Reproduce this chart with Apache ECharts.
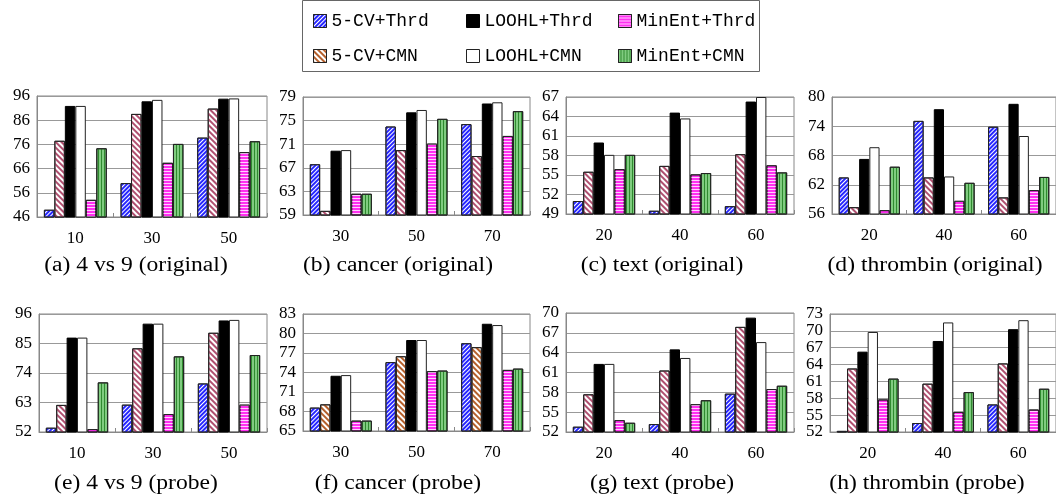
<!DOCTYPE html>
<html><head><meta charset="utf-8">
<script src="https://cdn.jsdelivr.net/npm/echarts@6/dist/echarts.min.js"></script>
<style>html,body{margin:0;padding:0;background:#fff}#c{width:1056px;height:497px}</style>
</head><body><div id="c"></div>
<script>
// ---------- data ----------
const seriesNames = ['5-CV+Thrd', '5-CV+CMN', 'LOOHL+Thrd', 'LOOHL+CMN', 'MinEnt+Thrd', 'MinEnt+CMN'];
const panelTitles = ['(a) 4 vs 9 (original)', '(b) cancer (original)', '(c) text (original)', '(d) thrombin (original)',
                     '(e) 4 vs 9 (probe)', '(f) cancer (probe)', '(g) text (probe)', '(h) thrombin (probe)'];
const panelCategories = [['10','30','50'], ['30','50','70'], ['20','40','60'], ['20','40','60'],
                         ['10','30','50'], ['30','50','70'], ['20','40','60'], ['20','40','60']];
const yMin  = [46, 59, 49, 56, 52, 65, 52, 52];
const yMax  = [96, 79, 67, 80, 96, 83, 70, 73];
const yStep = [10, 4, 3, 6, 11, 3, 3, 3];

// rows follow seriesNames, columns follow the panel categories
const a_fourVsNine_original = [[49.0,60.0,78.8],[77.5,88.6,90.8],[91.9,93.8,94.9],[91.9,94.4,95.0],[53.1,68.4,72.8],[74.4,76.2,77.3]];
const b_cancer_original     = [[67.6,74.0,74.4],[59.7,70.0,69.0],[69.9,76.4,77.9],[70.0,76.8,78.1],[62.6,71.1,72.4],[62.6,75.3,76.6]];
const c_text_original       = [[51.0,49.5,50.2],[55.5,56.4,58.2],[60.0,64.6,66.3],[58.1,63.7,67.0],[55.9,55.1,56.5],[58.1,55.3,55.4]];
const d_thrombin_original   = [[63.5,75.1,73.9],[57.4,63.5,59.4],[67.3,77.5,78.6],[69.7,63.7,72.0],[56.8,58.7,60.9],[65.7,62.4,63.6]];
const e_fourVsNine_probe    = [[53.6,62.2,70.1],[62.1,83.2,89.0],[87.2,92.4,93.6],[87.2,92.4,93.8],[53.1,58.7,62.2],[70.5,80.2,80.7]];
const f_cancer_probe        = [[68.6,75.6,78.5],[69.1,76.5,77.9],[73.5,79.0,81.5],[73.6,79.0,81.3],[66.6,74.2,74.4],[66.6,74.3,74.6]];
const g_text_probe          = [[52.8,53.2,57.8],[57.7,61.3,67.9],[62.3,64.5,69.3],[62.3,63.2,65.6],[53.8,56.2,58.5],[53.4,56.8,59.0]];
const h_thrombin_probe      = [[52.2,53.6,56.9],[63.3,60.6,64.2],[66.3,68.2,70.3],[69.8,71.5,71.9],[57.8,55.6,56.0],[61.5,59.1,59.7]];
const panelData = [a_fourVsNine_original, b_cancer_original, c_text_original, d_thrombin_original,
                   e_fourVsNine_probe, f_cancer_probe, g_text_probe, h_thrombin_probe];

// ---------- layout & style ----------
const grids = [
  {left:37,  top:96,  width:230, height:121},
  {left:303, top:97,  width:227, height:118},
  {left:566, top:97,  width:228, height:117},
  {left:832, top:97,  width:228, height:117},
  {left:39,  top:314, width:228, height:118},
  {left:303, top:314, width:227, height:117},
  {left:566, top:313, width:228, height:119},
  {left:830, top:314, width:230, height:118}
];
const titleCenters = [[136,266],[398,266],[662,266],[935,266],[136,484],[398,484],[662,484],[927,484]];
const serif = '"Liberation Serif", "Times New Roman", serif';
const border = '#222';
function stripe(color, rot, on, off) {
  return {symbol:'rect', symbolSize:1, color:color, dashArrayX:[1,0], dashArrayY:[on,off], rotation:rot};
}
const styles = [
  {color:'#ffffff', borderColor:border, borderWidth:1, decal: stripe('#2626ff', -Math.PI/4, 2, 1)},
  {color:'#ffffff', borderColor:border, borderWidth:1, decal: stripe('#b05070', Math.PI/4, 1.5, 1.5)},
  {color:'#000000', borderColor:'#000', borderWidth:1},
  {color:'#ffffff', borderColor:border, borderWidth:1},
  {color:'#ff30f0', borderColor:border, borderWidth:1, decal: stripe('#ffd0ff', 0, 1, 2)},
  {color:'#80cc80', borderColor:border, borderWidth:1, decal: stripe('#2f8a2f', Math.PI/2, 1, 2)}
];
const brownCMN = Object.assign({}, styles[1], {decal: stripe('#b5602c', Math.PI/4, 1.5, 1.5)});
const styleFor = (p, s) => (p === 5 && s === 1) ? brownCMN : styles[s];
const legendStyleFor = (s) => s === 1 ? brownCMN : styles[s];

const option = {
  animation: false,
  backgroundColor: '#fff',
  grid: grids.map(g => Object.assign({show:true, borderColor:'#888', borderWidth:1, backgroundColor:'transparent'}, g)),
  xAxis: grids.map((g, p) => ({
    type:'category', gridIndex:p, data: panelCategories[p],
    axisLine:{show:true, lineStyle:{color:'#888', width:1}},
    axisTick:{show:true, inside:true, length:4, lineStyle:{color:'#888'}},
    axisLabel:{fontFamily:serif, fontSize:17, color:'#000', margin:13},
    splitLine:{show:false}
  })),
  yAxis: grids.map((g, p) => ({
    type:'value', gridIndex:p, min:yMin[p], max:yMax[p], interval:yStep[p],
    axisLine:{show:true, lineStyle:{color:'#888', width:1}},
    axisTick:{show:false},
    axisLabel:{fontFamily:serif, fontSize:17, color:'#000', margin:7},
    splitLine:{show:true, lineStyle:{color:'#999', width:1}}
  })),
  legend: seriesNames.map((n, i) => ({
    data:[{name:n, itemStyle: legendStyleFor(i)}],
    left: [313, 466, 618][Math.floor(i/2)],
    top: [12, 47][i % 2],
    padding:0, itemWidth:13, itemHeight:13, icon:'rect', selectedMode:false,
    textStyle:{fontFamily:'"Liberation Mono", monospace', fontSize:18, color:'#000'}
  })),
  graphic: [
    {type:'rect', shape:{x:302.5, y:0.5, width:457, height:71}, style:{fill:'none', stroke:'#666', lineWidth:1}, z:10}
  ].concat(panelTitles.map((t, p) => ({
    type:'text', x:titleCenters[p][0], y:titleCenters[p][1], scaleX:1.18,
    style:{text:t, font:'20px ' + serif, fill:'#000', textAlign:'center', textVerticalAlign:'middle'}
  }))),
  series: []
};
panelData.forEach((rows, p) => {
  rows.forEach((vals, s) => {
    option.series.push({
      type:'bar', name: seriesNames[s], xAxisIndex:p, yAxisIndex:p, data: vals,
      barGap:'0%', barCategoryGap:'18%', itemStyle: styleFor(p, s)
    });
  });
});
const chart = echarts.init(document.getElementById('c'), null, {renderer:'canvas'});
chart.setOption(option);
</script></body></html>
